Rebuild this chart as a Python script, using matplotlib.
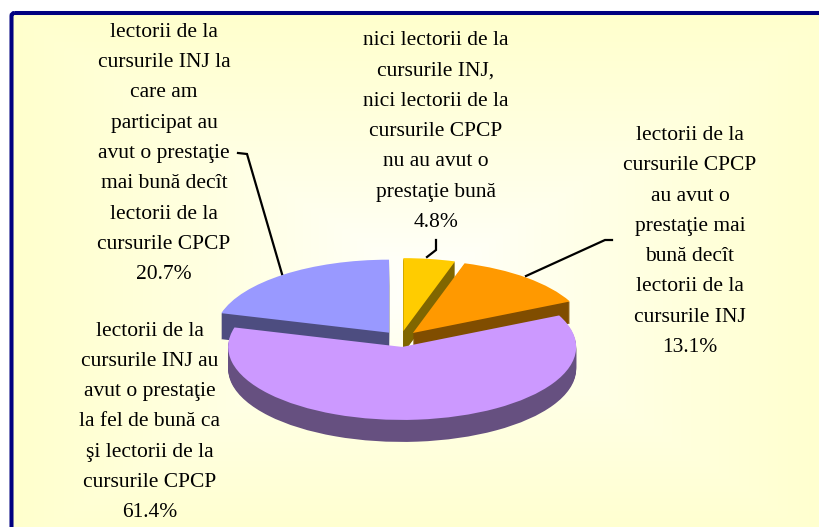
import numpy as np
import matplotlib
matplotlib.use("Agg")
import matplotlib.pyplot as plt
from matplotlib.patches import FancyBboxPatch

values = [4.8, 13.1, 61.4, 20.7]
labels = [
    "nici lectorii de la\ncursurile INJ,\nnici lectorii de la\ncursurile CPCP\nnu au avut o\nprestaţie bună\n4.8%",
    "lectorii de la\ncursurile CPCP\nau avut o\nprestaţie mai\nbună decît\nlectorii de la\ncursurile INJ\n13.1%",
    "lectorii de la\ncursurile INJ au\navut o prestaţie\nla fel de bună ca\nşi lectorii de la\ncursurile CPCP\n61.4%",
    "lectorii de la\ncursurile INJ la\ncare am\nparticipat au\navut o prestaţie\nmai bună decît\nlectorii de la\ncursurile CPCP\n20.7%",
]
top_colors = ["#FFCC00", "#FF9900", "#CC99FF", "#9999FF"]
side_colors = ["#806600", "#804D00", "#665080", "#4D4D80"]

W, H = 820, 527
plt.rcParams["font.family"] = ["Liberation Serif", "DejaVu Serif"]
fig = plt.figure(figsize=(W / 100, H / 100), dpi=100)

# background and frame, in pixel coordinates
bg = fig.add_axes([0, 0, 1, 1])
bg.set_xlim(0, W)
bg.set_ylim(H, 0)
bg.axis("off")
xx, yy = np.meshgrid(np.linspace(0, 1, 205), np.linspace(0, 1, 132))
dist = np.maximum(np.abs(xx - 0.5) / 0.5, np.abs(yy - 0.5) / 0.5)
dist = np.clip(dist, 0, 1)
grad = np.zeros(xx.shape + (3,))
grad[..., 0] = 1
grad[..., 1] = 1
grad[..., 2] = (255 - 50 * dist ** 0.8) / 255
frame = FancyBboxPatch((11.5, 13), 830, 540, boxstyle="round,pad=0,rounding_size=3",
                       fc="none", ec="#000080", lw=2.9, zorder=3)
im = bg.imshow(grad, extent=(11.5, 841.5, 553, 13), aspect="auto", interpolation="bilinear", zorder=1)
bg.add_patch(frame)
clip = FancyBboxPatch((11.5, 13), 830, 540, boxstyle="round,pad=0,rounding_size=3",
                      fc="none", ec="none", transform=bg.transData)
bg.add_patch(clip)
im.set_clip_path(clip)
bg.set_xlim(0, W)
bg.set_ylim(H, 0)

# pie, squashed by using auto aspect
ax = fig.add_axes([0, 0, 1, 1])
ax.patch.set_alpha(0)
cx, cy, rx, ry = 400.5, 339, 174, 73
explode = [0.109] * 4
depths = [22, 22, 22, 26]
start = 90


def draw_pie(colors, offset):
    w, _ = ax.pie(values, colors=colors, explode=explode, startangle=start,
                  counterclock=False, center=(0, -offset / ry), radius=1,
                  wedgeprops={"linewidth": 0})
    return w


# back slices first, purple last because it sits in front
for idx in [0, 1, 3, 2]:
    for d in range(depths[idx], 0, -1):
        cols = ["none"] * 4
        cols[idx] = side_colors[idx]
        draw_pie(cols, d)
    cols = ["none"] * 4
    cols[idx] = top_colors[idx]
    draw_pie(cols, 0)

ax.set_aspect("auto")
ax.set_xlim((0 - cx) / rx, (W - cx) / rx)
ax.set_ylim((cy - H) / ry, cy / ry)
ax.axis("off")

# labels and leader lines on top, pixel coordinates
over = fig.add_axes([0, 0, 1, 1])
over.patch.set_alpha(0)
over.set_xlim(0, W)
over.set_ylim(H, 0)
over.axis("off")

label_pos = [(436, 131.5), (690, 241.5), (150, 422), (164, 153.5)]
for txt, (lx, ly) in zip(labels, label_pos):
    over.text(lx, ly, txt, ha="center", va="center", ma="center",
              fontsize=15.5, color="black", linespacing=1.806)

over.plot([282, 247, 238], [274, 154, 153], color="black", lw=1.6, solid_joinstyle="miter")
over.plot([526, 605, 612], [276, 240, 240], color="black", lw=1.6, solid_joinstyle="miter")
over.plot([427, 436, 436], [257, 250, 240], color="black", lw=1.6, solid_joinstyle="miter")

fig.savefig("out.png", dpi=100)
